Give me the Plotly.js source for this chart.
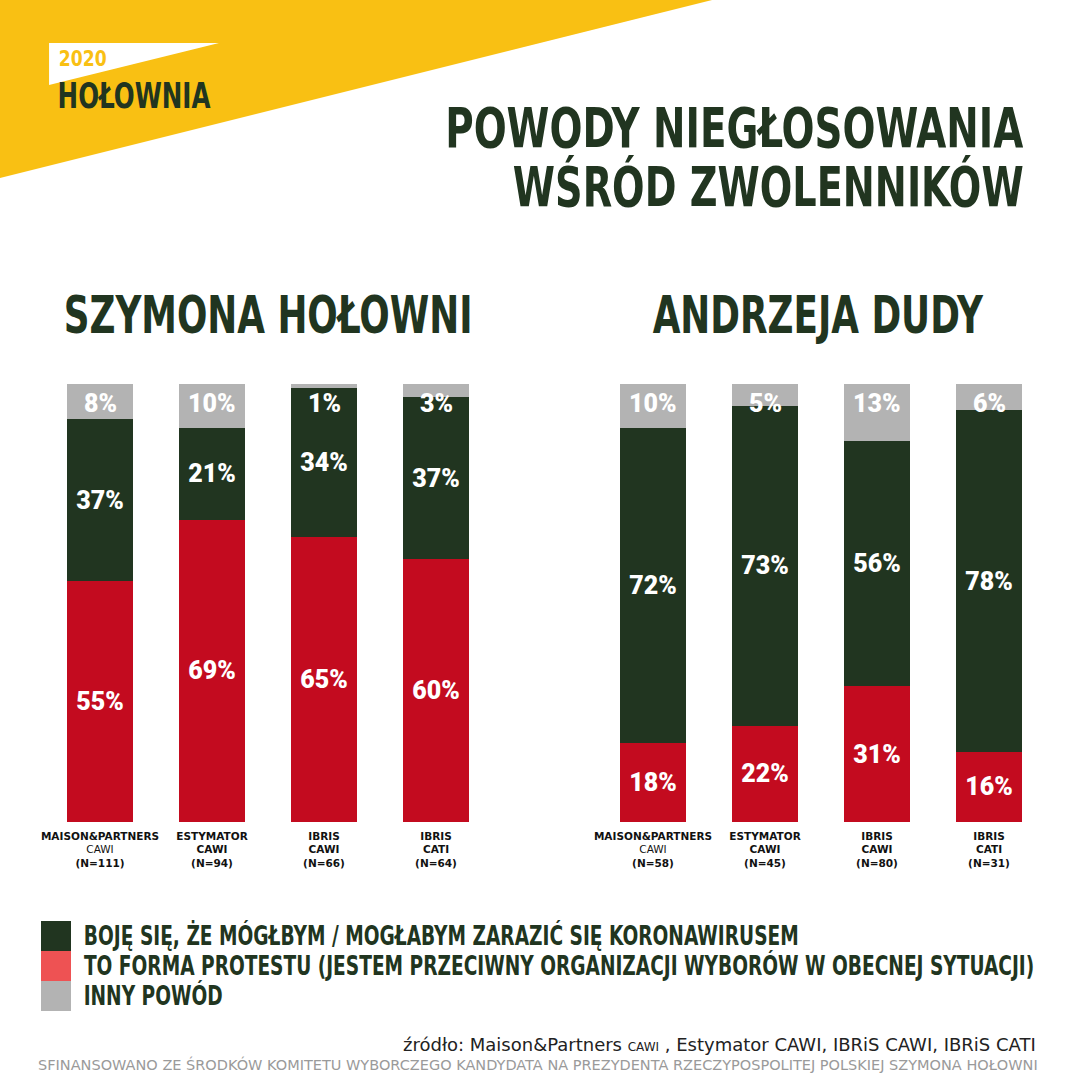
<!DOCTYPE html>
<html>
<head>
<meta charset="utf-8">
<script src="https://cdn.plot.ly/plotly-3.0.1.min.js"></script>
<style>html,body{margin:0;padding:0;background:#fff;}#chart{width:1080px;height:1080px;}</style>
</head>
<body>
<div id="chart"></div>
<script>
// ---- data ----
const categoriesLeft = [
  "<b>MAISON&PARTNERS</b><br>CAWI<br><b>(N=111)</b>",
  "<b>ESTYMATOR</b><br><b>CAWI</b><br><b>(N=94)</b>",
  "<b>IBRIS</b><br><b>CAWI</b><br><b>(N=66)</b>",
  "<b>IBRIS</b><br><b>CATI</b><br><b>(N=64)</b>"
];
const categoriesRight = [
  "<b>MAISON&PARTNERS</b><br>CAWI<br><b>(N=58)</b>",
  "<b>ESTYMATOR</b><br><b>CAWI</b><br><b>(N=45)</b>",
  "<b>IBRIS</b><br><b>CAWI</b><br><b>(N=80)</b>",
  "<b>IBRIS</b><br><b>CATI</b><br><b>(N=31)</b>"
];
const protestLeft = [55, 69, 65, 60];
const fearLeft    = [37, 21, 34, 37];
const otherLeft   = [8, 10, 1, 3];
const protestRight = [18, 22, 31, 16];
const fearRight    = [72, 73, 56, 78];
const otherRight   = [10, 5, 13, 6];
const legendLabels = [
  "BOJĘ SIĘ, ŻE MÓGŁBYM / MOGŁABYM ZARAZIĆ SIĘ KORONAWIRUSEM",
  "TO FORMA PROTESTU (JESTEM PRZECIWNY ORGANIZACJI WYBORÓW W OBECNEJ SYTUACJI)",
  "INNY POWÓD"
];
const titleLines = ["POWODY NIEGŁOSOWANIA", "WŚRÓD ZWOLENNIKÓW"];
const panelTitles = ["SZYMONA HOŁOWNI", "ANDRZEJA DUDY"];

// ---- styles ----
const RED = "#C30B1F", DARK = "#213520", GRAY = "#B3B3B3", YELLOW = "#F9C013";
const legendColors = [DARK, "#EE5253", GRAY];
const DISPLAY = "'DejaVu Sans Condensed', 'DejaVu Sans', sans-serif";
const NUMFONT = "Roboto, 'Liberation Sans', sans-serif";
const SMALL = "'DejaVu Sans', Verdana, sans-serif";
const pct = v => v + "%";

function barTrace(cats, vals, color, xa, ya, withText) {
  return {
    type: "bar", x: cats, y: vals, xaxis: xa, yaxis: ya,
    marker: {color: color, line: {width: 0}},
    text: withText ? vals.map(pct) : null,
    textposition: withText ? "inside" : "none",
    insidetextanchor: "middle",
    textangle: 0,
    constraintext: "none",
    textfont: {family: NUMFONT, size: 25, color: "#fff", weight: 900},
    hoverinfo: "skip", showlegend: false
  };
}

const data = [
  barTrace(categoriesLeft, protestLeft, RED, "x", "y", true),
  barTrace(categoriesLeft, fearLeft, DARK, "x", "y", true),
  barTrace(categoriesLeft, otherLeft, GRAY, "x", "y", false),
  barTrace(categoriesRight, protestRight, RED, "x2", "y2", true),
  barTrace(categoriesRight, fearRight, DARK, "x2", "y2", true),
  barTrace(categoriesRight, otherRight, GRAY, "x2", "y2", false)
];

const annotations = [];
const condense = {}; // annotation index -> horizontal scale
function grayLabels(cats, p, f, o, xr, yr) {
  cats.forEach((c, i) => {
    annotations.push({
      xref: xr, yref: yr, x: c, y: p[i] + f[i] + o[i],
      yanchor: "middle", yshift: -20, showarrow: false,
      text: pct(o[i]), font: {family: NUMFONT, size: 25, color: "#fff", weight: 900}
    });
  });
}
grayLabels(categoriesLeft, protestLeft, fearLeft, otherLeft, "x", "y");
grayLabels(categoriesRight, protestRight, fearRight, otherRight, "x2", "y2");

function addText(opts, sx) {
  annotations.push(Object.assign({xref:"paper", yref:"paper", showarrow:false, yanchor:"middle"}, opts));
  if (sx) condense[annotations.length - 1] = sx;
}

// header texts
addText({x:57/1080, y:1-59/1080, xanchor:"left", text:"<b>2020</b>", font:{family:DISPLAY, size:22, color:YELLOW}}, 0.87);
addText({x:56/1080, y:1-96/1080, xanchor:"left", text:"<b>HOŁOWNIA</b>", font:{family:DISPLAY, size:35, color:DARK}}, 0.78);
addText({x:1025/1080, y:1-128/1080, xanchor:"right", text:"<b>"+titleLines[0]+"</b>", font:{family:DISPLAY, size:56, color:DARK}}, 0.77);
addText({x:1025/1080, y:1-186/1080, xanchor:"right", text:"<b>"+titleLines[1]+"</b>", font:{family:DISPLAY, size:56, color:DARK}}, 0.76);
addText({x:268/1080, y:1-316/1080, xanchor:"center", text:"<b>"+panelTitles[0]+"</b>", font:{family:DISPLAY, size:51, color:DARK}}, 0.78);
addText({x:818/1080, y:1-316/1080, xanchor:"center", text:"<b>"+panelTitles[1]+"</b>", font:{family:DISPLAY, size:51, color:DARK}}, 0.78);

// shapes: yellow corner + white logo wedge
const shapes = [
  {type:"path", xref:"paper", yref:"paper", path:"M 0 1 L 0.6593 1 L 0 0.8352 Z", fillcolor:YELLOW, line:{width:0}, layer:"below"},
  {type:"path", xref:"paper", yref:"paper", path:"M 0.0454 0.9602 L 0.2028 0.9602 L 0.0454 0.9213 Z", fillcolor:"#fff", line:{width:0}, layer:"below"}
];

// legend
legendLabels.forEach((lab, i) => {
  const top = 921 + i * 30;
  shapes.push({type:"rect", xref:"paper", yref:"paper", x0:41/1080, x1:71/1080,
    y0:1-(top+30)/1080, y1:1-top/1080, fillcolor:legendColors[i], line:{width:0}});
  addText({x:82/1080, y:1-(top+14)/1080, xanchor:"left", text:"<b>"+lab+"</b>",
    font:{family:DISPLAY, size:26, color:DARK}}, 0.795);
});

// footer
addText({x:1038/1080, y:1-1044/1080, xanchor:"right",
  text:"źródło: Maison&Partners <span style='font-size:12px'>CAWI</span> , Estymator CAWI, IBRiS CAWI, IBRiS CATI",
  font:{family:SMALL, size:18, color:"#222"}});
addText({x:1040/1080, y:1-1064/1080, xanchor:"right",
  text:"SFINANSOWANO ZE ŚRODKÓW KOMITETU WYBORCZEGO KANDYDATA NA PREZYDENTA RZECZYPOSPOLITEJ POLSKIEJ SZYMONA HOŁOWNI",
  font:{family:SMALL, size:14.5, color:"#9a9a9a"}});

const xBase = {
  type:"category", showgrid:false, zeroline:false, showline:false, ticks:"",
  tickfont:{family:SMALL, size:10.5, color:"#111"},
  ticklabelstandoff: 6, fixedrange:true
};
const yBase = {range:[0,100], showgrid:false, zeroline:false, showticklabels:false, showline:false, fixedrange:true};
const yDom = [258/1080, 696/1080];

const layout = {
  width:1080, height:1080,
  margin:{l:0, r:0, t:0, b:0},
  paper_bgcolor:"#fff", plot_bgcolor:"rgba(0,0,0,0)",
  barmode:"stack", bargap:0.41,
  showlegend:false,
  xaxis: Object.assign({}, xBase, {domain:[44/1080, 492/1080], anchor:"y"}),
  xaxis2: Object.assign({}, xBase, {domain:[597/1080, 1045/1080], anchor:"y2"}),
  yaxis: Object.assign({}, yBase, {domain:yDom, anchor:"x"}),
  yaxis2: Object.assign({}, yBase, {domain:yDom, anchor:"x2"}),
  shapes: shapes,
  annotations: annotations
};

Plotly.newPlot("chart", data, layout, {displayModeBar:false, staticPlot:true}).then(gd => {
  Object.keys(condense).forEach(k => {
    const a = annotations[k];
    const g = gd.querySelector('.annotation[data-index="' + k + '"]');
    if (!g) return;
    const X = a.x * 1080;
    const prev = g.getAttribute("transform") || "";
    g.setAttribute("transform", "translate(" + X + ",0) scale(" + condense[k] + ",1) translate(" + (-X) + ",0) " + prev);
  });
});
</script>
</body>
</html>
